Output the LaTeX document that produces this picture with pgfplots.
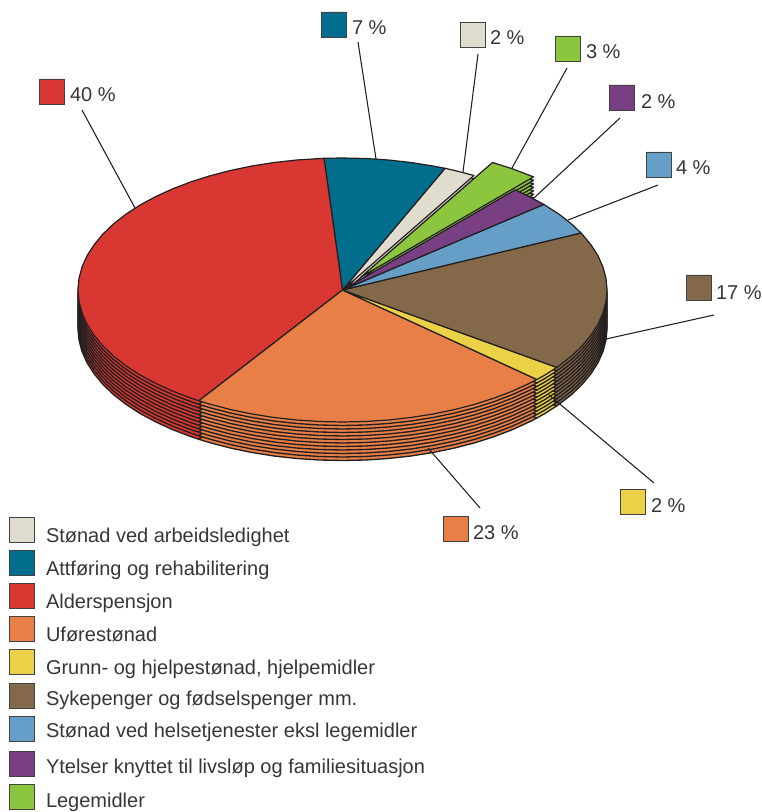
\documentclass[border=0pt]{standalone}
\usepackage{fontspec}
\setmainfont{Liberation Sans}
\usepackage{pgfplots}
\usepackage{pgfplotstable}
\pgfplotsset{compat=1.18}
\definecolor{cRed}{HTML}{D83732}
\definecolor{cTeal}{HTML}{006E8C}
\definecolor{cBeige}{HTML}{E0DDCF}
\definecolor{cGreen}{HTML}{8CC63F}
\definecolor{cPurple}{HTML}{783F82}
\definecolor{cBlue}{HTML}{659EC7}
\definecolor{cBrown}{HTML}{836849}
\definecolor{cYellow}{HTML}{EBD146}
\definecolor{cOrange}{HTML}{E87F46}
\definecolor{cLine}{HTML}{231F20}
% wedge outlines, in pixels of the reference
\pgfplotstableread{
x y
342.5 290
324.0 158.3
296.6 160.0
274.0 162.5
252.0 166.0
230.7 170.4
210.3 175.7
190.8 181.9
172.5 188.9
155.5 196.7
139.9 205.1
125.8 214.3
113.4 224.0
102.8 234.2
94.0 244.9
87.0 255.8
82.0 267.1
79.0 278.5
78.0 290.0
79.0 301.5
82.0 312.9
87.0 324.2
94.0 335.1
102.8 345.8
113.4 356.0
125.8 365.7
139.9 374.9
155.5 383.3
172.5 391.1
190.8 398.1
198.8 400.8
342.5 290
}\tabRed
\pgfplotstableread{
x y
342.5 290
198.8 400.8
210.3 404.3
230.7 409.6
252.0 414.0
274.0 417.5
296.6 420.0
319.4 421.5
342.5 422.0
365.6 421.5
388.4 420.0
411.0 417.5
433.0 414.0
454.3 409.6
474.8 404.3
494.2 398.1
512.5 391.1
529.5 383.3
536.9 379.5
342.5 290
}\tabOrange
\pgfplotstableread{
x y
342.5 290
536.9 379.5
545.1 374.9
556.7 367.4
342.5 290
}\tabYellow
\pgfplotstableread{
x y
342.5 290
556.7 367.4
559.2 365.7
571.6 356.0
582.2 345.8
591.0 335.1
598.0 324.2
603.0 312.9
606.0 301.5
607.0 290.0
606.0 278.5
603.0 267.1
598.0 255.8
591.0 244.9
582.2 234.2
581.0 233.0
342.5 290
}\tabBrown
\pgfplotstableread{
x y
342.5 290
581.0 233.0
571.6 224.0
559.2 214.3
543.8 204.4
342.5 290
}\tabBlue
\pgfplotstableread{
x y
342.5 290
543.8 204.4
529.5 196.7
515.0 189.9
342.5 290
}\tabPurple
\pgfplotstableread{
x y
361.0 277
533.5 176.9
512.7 168.9
492.5 162.5
361.0 277
}\tabGreen
\pgfplotstableread{
x y
342.5 290
474.0 175.5
454.3 170.4
445.0 168.3
342.5 290
}\tabBeige
\pgfplotstableread{
x y
342.5 290
445.0 168.3
433.0 166.0
411.0 162.5
388.4 160.0
365.6 158.5
342.5 158.0
324.0 158.3
342.5 290
}\tabTeal
\newcommand\pieslice[4]{\addplot[fill=#1,draw=cLine,line width=#4,line join=round] table[x=x,y expr=\thisrow{y}+#3*3.5]{#2};}
\newcommand\pielayer[2]{%
  \pieslice{cGreen}{\tabGreen}{#1}{#2}
  \pieslice{cBeige}{\tabBeige}{#1}{#2}
  \pieslice{cTeal}{\tabTeal}{#1}{#2}
  \pieslice{cRed}{\tabRed}{#1}{#2}
  \pieslice{cOrange}{\tabOrange}{#1}{#2}
  \pieslice{cYellow}{\tabYellow}{#1}{#2}
  \pieslice{cBrown}{\tabBrown}{#1}{#2}
  \pieslice{cBlue}{\tabBlue}{#1}{#2}
  \pieslice{cPurple}{\tabPurple}{#1}{#2}
}
\newcommand\swatch[3]{\addplot[fill=#1,draw=cLine!85!white,line width=0.7pt] coordinates {(#2,#3) (#2+25,#3) (#2+25,#3+25) (#2,#3+25) (#2,#3)};}
\newcommand\lab[3]{\node[inner sep=0pt,outer sep=0pt,anchor=base west,font=\fontsize{15}{17}\selectfont,text=cLine!90!white] at (axis cs:#1,#2) {#3};}
\begin{document}
\begin{tikzpicture}
\path[use as bounding box] (0,0) rectangle (571.5pt,609pt);
\begin{axis}[
  at={(0,0)}, anchor=south west,
  scale only axis, width=571.5pt, height=609pt,
  xmin=0, xmax=762, ymin=0, ymax=812, y dir=reverse,
  hide axis, clip=false,
]
\pgfplotsinvokeforeach{11,10,9,8,7,6,5,4,3,2,1}{\pielayer{#1}{1.0pt}}
\pielayer{0}{0.9pt}
% leader lines
\addplot[draw=cLine,line width=0.8pt] coordinates {(82,110) (135,208)};
\addplot[draw=cLine,line width=0.8pt] coordinates {(358,42) (376,159)};
\addplot[draw=cLine,line width=0.8pt] coordinates {(478,54) (463,172)};
\addplot[draw=cLine,line width=0.8pt] coordinates {(567,68) (512,168)};
\addplot[draw=cLine,line width=0.8pt] coordinates {(620,118) (534,198)};
\addplot[draw=cLine,line width=0.8pt] coordinates {(658,185) (568,220)};
\addplot[draw=cLine,line width=0.8pt] coordinates {(714,315) (606,339)};
\addplot[draw=cLine,line width=0.8pt] coordinates {(654,483) (549,395)};
\addplot[draw=cLine,line width=0.8pt] coordinates {(480,508) (428,448)};
% label swatches
\swatch{cRed}{39}{79}
\swatch{cTeal}{321}{12}
\swatch{cBeige}{460}{22}
\swatch{cGreen}{555}{36}
\swatch{cPurple}{609}{85}
\swatch{cBlue}{646}{152}
\swatch{cBrown}{686}{275}
\swatch{cYellow}{620}{489}
\swatch{cOrange}{443}{516}
\lab{70}{102}{40 \%}
\lab{352}{35}{7 \%}
\lab{490}{45}{2 \%}
\lab{586}{59}{3 \%}
\lab{641}{109}{2 \%}
\lab{676}{175}{4 \%}
\lab{716}{300}{17 \%}
\lab{651}{512}{2 \%}
\lab{473}{539}{23 \%}
% legend
\swatch{cBeige}{9}{517}
\swatch{cTeal}{9}{550}
\swatch{cRed}{9}{583}
\swatch{cOrange}{9}{616}
\swatch{cYellow}{9}{649}
\swatch{cBrown}{9}{683}
\swatch{cBlue}{9}{716}
\swatch{cPurple}{9}{751}
\swatch{cGreen}{9}{784}
\lab{46}{542}{Stønad ved arbeidsledighet}
\lab{46}{575}{Attføring og rehabilitering}
\lab{46}{608}{Alderspensjon}
\lab{46}{641}{Uførestønad}
\lab{46}{674}{Grunn- og hjelpestønad, hjelpemidler}
\lab{46}{705}{Sykepenger og fødselspenger mm.}
\lab{46}{737}{Stønad ved helsetjenester eksl legemidler}
\lab{46}{773}{Ytelser knyttet til livsløp og familiesituasjon}
\lab{46}{807}{Legemidler}
\end{axis}
\end{tikzpicture}
\end{document}
